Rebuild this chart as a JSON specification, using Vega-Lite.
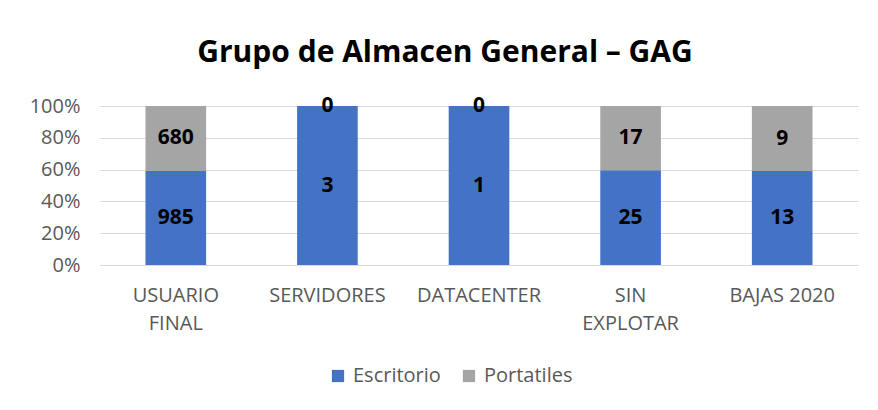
{
  "$schema": "https://vega.github.io/schema/vega-lite/v6.json",
  "width": 758,
  "height": 159,
  "autosize": {"type": "none"},
  "padding": {"left": 100, "top": 106, "right": 20, "bottom": 145},
  "background": "white",
  "title": {
    "text": "Grupo de Almacen General – GAG",
    "font": "Open Sans",
    "fontSize": 30,
    "fontWeight": "bold",
    "color": "#000000",
    "anchor": "middle",
    "dx": -34,
    "offset": 27
  },
  "data": {
    "values": [
      {"categoria": "USUARIO FINAL", "tipo": "Escritorio", "valor": 985},
      {"categoria": "USUARIO FINAL", "tipo": "Portatiles", "valor": 680},
      {"categoria": "SERVIDORES", "tipo": "Escritorio", "valor": 3},
      {"categoria": "SERVIDORES", "tipo": "Portatiles", "valor": 0},
      {"categoria": "DATACENTER", "tipo": "Escritorio", "valor": 1},
      {"categoria": "DATACENTER", "tipo": "Portatiles", "valor": 0},
      {"categoria": "SIN EXPLOTAR", "tipo": "Escritorio", "valor": 25},
      {"categoria": "SIN EXPLOTAR", "tipo": "Portatiles", "valor": 17},
      {"categoria": "BAJAS 2020", "tipo": "Escritorio", "valor": 13},
      {"categoria": "BAJAS 2020", "tipo": "Portatiles", "valor": 9}
    ]
  },
  "config": {
    "view": {"stroke": null},
    "font": "Open Sans",
    "axisY": {
      "title": null,
      "format": ".0%",
      "values": [0, 0.2, 0.4, 0.6, 0.8, 1],
      "tickCount": 6,
      "labelFontSize": 20,
      "labelColor": "#595959",
      "labelFont": "Open Sans",
      "labelPadding": 20,
      "labelOverlap": false,
      "ticks": false,
      "domain": false,
      "grid": true,
      "gridColor": "#D9D9D9"
    }
  },
  "transform": [
    {"calculate": "datum.tipo == 'Escritorio' ? 0 : 1", "as": "orden"},
    {"stack": "valor", "groupby": ["categoria"], "offset": "normalize", "sort": [{"field": "orden", "order": "ascending"}], "as": ["y0", "y1"]},
    {"calculate": "(datum.y0 + datum.y1) / 2", "as": "ymid"}
  ],
  "encoding": {
    "x": {
      "field": "categoria",
      "type": "nominal",
      "sort": ["USUARIO FINAL", "SERVIDORES", "DATACENTER", "SIN EXPLOTAR", "BAJAS 2020"],
      "scale": {"paddingInner": 0.6, "paddingOuter": 0.3},
      "axis": {
        "title": null,
        "labelAngle": 0,
        "labelFontSize": 20,
        "labelColor": "#595959",
        "labelFont": "Open Sans",
        "labelPadding": 20,
        "labelLineHeight": 28,
        "ticks": false,
        "domainColor": "#D9D9D9",
        "labelExpr": "datum.value == 'USUARIO FINAL' ? ['USUARIO', 'FINAL'] : datum.value == 'SIN EXPLOTAR' ? ['SIN', 'EXPLOTAR'] : datum.value"
      }
    }
  },
  "layer": [
    {
      "mark": {"type": "bar"},
      "encoding": {
        "y": {
          "field": "y0",
          "type": "quantitative",
          "scale": {"domain": [0, 1]},
          "axis": {"values": [0, 0.2, 0.4, 0.6, 0.8, 1], "labelOverlap": false, "grid": true}
        },
        "y2": {"field": "y1"},
        "color": {
          "field": "tipo",
          "type": "nominal",
          "scale": {"domain": ["Escritorio", "Portatiles"], "range": ["#4472C4", "#A5A5A5"]},
          "legend": {
            "title": null,
            "orient": "none",
            "legendX": 228,
            "legendY": 260,
            "direction": "horizontal",
            "symbolType": "square",
            "symbolSize": 150,
            "symbolStrokeWidth": 0,
            "labelFontSize": 20,
            "labelColor": "#595959",
            "labelFont": "Open Sans",
            "columnPadding": 18,
            "labelOffset": 5
          }
        }
      }
    },
    {
      "mark": {"type": "text", "fontSize": 21, "fontWeight": "bold", "color": "#000000", "font": "Open Sans"},
      "encoding": {
        "y": {
          "field": "ymid",
          "type": "quantitative",
          "axis": {"values": [0, 0.2, 0.4, 0.6, 0.8, 1], "labelOverlap": false, "grid": true}
        },
        "text": {"field": "valor", "type": "quantitative"}
      }
    }
  ]
}
